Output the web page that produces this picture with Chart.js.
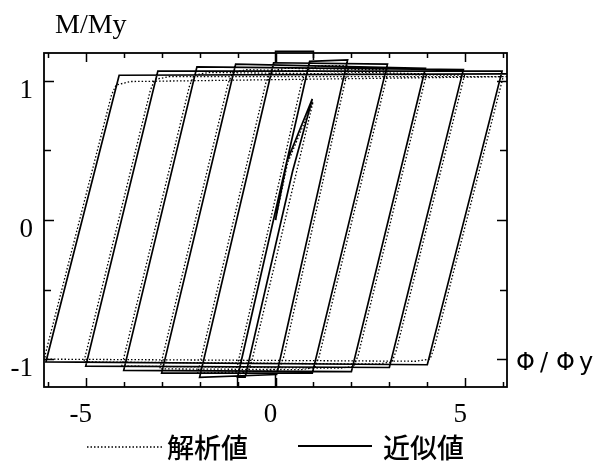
<!DOCTYPE html>
<html>
<head>
<meta charset="utf-8">
<script src="https://cdn.jsdelivr.net/npm/chart.js@4/dist/chart.umd.min.js"></script>
<style>
  html, body { margin: 0; padding: 0; background: #fff; }
  #wrap { width: 599px; height: 463px; position: relative; }
</style>
</head>
<body>
<div id="wrap"><canvas id="c" width="599" height="463"></canvas></div>
<script>
// Approximate model (solid): turning points of the cyclic moment–curvature path
const approxPhi = [0, 0.3, 0.97, 0.45, -0.8, -1.0, 0.9, 1.9, 0.03, -2.0, -0.05, 2.95, 0.97, -3.0, -1.05, 3.95,
  2.0, -4.0, -2.07, 4.95, 3.0, -5.0, -3.1, 5.97, 4.0, -6.05, -4.12, 6.1];
const approxM = [0, 0.42, 0.87, 0.35, -1.13, -1.13, 1.14, 1.15, -1.11, -1.13, 1.13, 1.12, -1.10, -1.10, 1.12, 1.09,
  -1.09, -1.08, 1.10, 1.08, -1.06, -1.05, 1.07, 1.07, -1.04, -1.02, 1.04, 1.05];

// Short excursions of the approximate model at the frame edges
const edgePhiTop = [0, 0, 1.0, 1.0];
const edgeMTop = [1.13, 1.213, 1.213, 1.15];
const edgePhiBottom = [-1.0, -1.0, 0, 0];
const edgeMBottom = [-1.12, -1.2, -1.2, -1.11];

// Analysis result (dotted): same history with rounded knees
const analysisPhi = [0, 0.32, 0.99,
  -0.62, -0.73, -0.95,
  -1.05, 0.7, 0.82, 1.2, 1.93,
  0.21, 0.1, -0.27, -1.95,
  -2.05, -0.25, -0.13, 0.25, 2.98,
  1.15, 1.04, 0.67, -2.95,
  -3.05, -1.25, -1.13, -0.75, 3.98,
  2.18, 2.07, 1.7, -3.95,
  -4.05, -2.27, -2.15, -1.77, 4.98,
  3.18, 3.07, 2.7, -4.95,
  -5.05, -3.3, -3.18, -2.8, 6.0,
  4.18, 4.07, 3.7, -6.0,
  -6.08, -4.32, -4.2, -3.82, 6.1];
const analysisM = [0, 0.41, 0.85,
  -1.01, -1.09, -1.105,
  -1.10, 1.0, 1.08, 1.11, 1.11,
  -0.99, -1.07, -1.085, -1.10,
  -1.10, 0.99, 1.07, 1.09, 1.08,
  -0.98, -1.06, -1.075, -1.07,
  -1.07, 0.98, 1.06, 1.08, 1.05,
  -0.97, -1.05, -1.065, -1.05,
  -1.05, 0.96, 1.04, 1.06, 1.04,
  -0.94, -1.02, -1.035, -1.02,
  -1.02, 0.93, 1.01, 1.03, 1.03,
  -0.92, -1.0, -1.015, -1.0,
  -0.98, 0.9, 0.97, 0.995, 1.03];

const xTickValues = [-6, -5, -4, -3, -2, -1, 0, 1, 2, 3, 4, 5, 6];
const xTickLabels = ['', '-5', '', '', '', '', '0', '', '', '', '', '5', ''];
const yTickValues = [-1, -0.5, 0, 0.5, 1];
const yTickLabels = ['-1', '', '0', '', '1'];

const seriesNames = ['解析値', '近似値'];
const yTitle = 'M/My';
const xTitleParts = ['Φ', '/', 'Φ', 'y'];

const zip = (xs, ys) => xs.map((x, i) => ({ x: x, y: ys[i] }));

const frameAndText = {
  id: 'frameAndText',
  afterDraw(chart) {
    const ctx = chart.ctx;
    const a = chart.chartArea;
    const xs = chart.scales.x, ys = chart.scales.y;
    ctx.save();
    ctx.strokeStyle = '#000';
    ctx.lineWidth = 1.8;
    ctx.setLineDash([]);
    ctx.strokeRect(a.left, a.top, a.right - a.left, a.bottom - a.top);

    ctx.lineWidth = 1.5;
    ctx.beginPath();
    xTickValues.forEach((v, i) => {
      const px = Math.round(xs.getPixelForValue(v)) + 0.5;
      const len = xTickLabels[i] ? 9 : 5;
      ctx.moveTo(px, a.bottom); ctx.lineTo(px, a.bottom - len);
      ctx.moveTo(px, a.top); ctx.lineTo(px, a.top + len);
    });
    yTickValues.forEach((v, i) => {
      const py = Math.round(ys.getPixelForValue(v)) + 0.5;
      const len = yTickLabels[i] ? 10 : 7;
      ctx.moveTo(a.left, py); ctx.lineTo(a.left + len, py);
      ctx.moveTo(a.right, py); ctx.lineTo(a.right - len, py);
    });
    ctx.stroke();

    // axis titles
    ctx.fillStyle = '#000';
    ctx.textAlign = 'left';
    ctx.textBaseline = 'alphabetic';
    ctx.font = '28px "Liberation Serif"';
    ctx.fillText(yTitle, 55, 33);
    ctx.font = '24px "DejaVu Sans"';
    const partX = [516, 540, 556, 579];
    xTitleParts.forEach((t, i) => ctx.fillText(t, partX[i], 370));

    // legend
    ctx.lineWidth = 1.3;
    ctx.setLineDash([1.5, 2]);
    ctx.beginPath();
    ctx.moveTo(87, 447); ctx.lineTo(163, 447);
    ctx.stroke();
    ctx.setLineDash([]);
    ctx.lineWidth = 2;
    ctx.beginPath();
    ctx.moveTo(298, 446); ctx.lineTo(372, 446);
    ctx.stroke();
    ctx.textBaseline = 'middle';
    ctx.font = '500 27px "Noto Sans CJK JP"';
    ctx.fillText(seriesNames[0], 167, 448);
    ctx.fillText(seriesNames[1], 383, 448);
    ctx.restore();
  }
};

new Chart(document.getElementById('c'), {
  type: 'line',
  data: {
    datasets: [
      {
        label: seriesNames[0],
        data: zip(analysisPhi, analysisM),
        borderColor: '#000',
        borderWidth: 1.3,
        borderDash: [1.5, 2],
        pointRadius: 0,
        tension: 0,
        fill: false
      },
      {
        label: seriesNames[1],
        data: zip(approxPhi, approxM),
        borderColor: '#000',
        borderWidth: 1.7,
        pointRadius: 0,
        tension: 0,
        fill: false
      },
      {
        label: 'edgeTop',
        data: zip(edgePhiTop, edgeMTop),
        borderColor: '#000',
        borderWidth: 1.5,
        pointRadius: 0,
        tension: 0,
        fill: false,
        clip: 6
      },
      {
        label: 'edgeBottom',
        data: zip(edgePhiBottom, edgeMBottom),
        borderColor: '#000',
        borderWidth: 1.5,
        pointRadius: 0,
        tension: 0,
        fill: false,
        clip: 6
      }
    ]
  },
  options: {
    responsive: false,
    animation: false,
    devicePixelRatio: 1,
    layout: { padding: { left: 0, top: 53, right: 92, bottom: 0 } },
    plugins: { legend: { display: false }, tooltip: { enabled: false } },
    scales: {
      x: {
        type: 'linear',
        min: -6.1,
        max: 6.1,
        afterBuildTicks: s => { s.ticks = xTickValues.map(v => ({ value: v })); },
        afterFit: s => { s.height = 76; },
        grid: { display: false, drawTicks: false },
        border: { display: false },
        ticks: {
          autoSkip: false,
          maxRotation: 0,
          color: '#000',
          padding: 12,
          labelOffset: -5,
          font: { family: 'Liberation Serif', size: 27 },
          callback: v => xTickLabels[xTickValues.indexOf(v)]
        }
      },
      y: {
        type: 'linear',
        min: -1.2,
        max: 1.2,
        afterBuildTicks: s => { s.ticks = yTickValues.map(v => ({ value: v })); },
        afterFit: s => { s.width = 44; },
        grid: { display: false, drawTicks: false },
        border: { display: false },
        ticks: {
          autoSkip: false,
          color: '#000',
          padding: 11,
          labelOffset: 10,
          font: { family: 'Liberation Serif', size: 27 },
          callback: v => yTickLabels[yTickValues.indexOf(v)]
        }
      }
    }
  },
  plugins: [frameAndText]
});
</script>
</body>
</html>
